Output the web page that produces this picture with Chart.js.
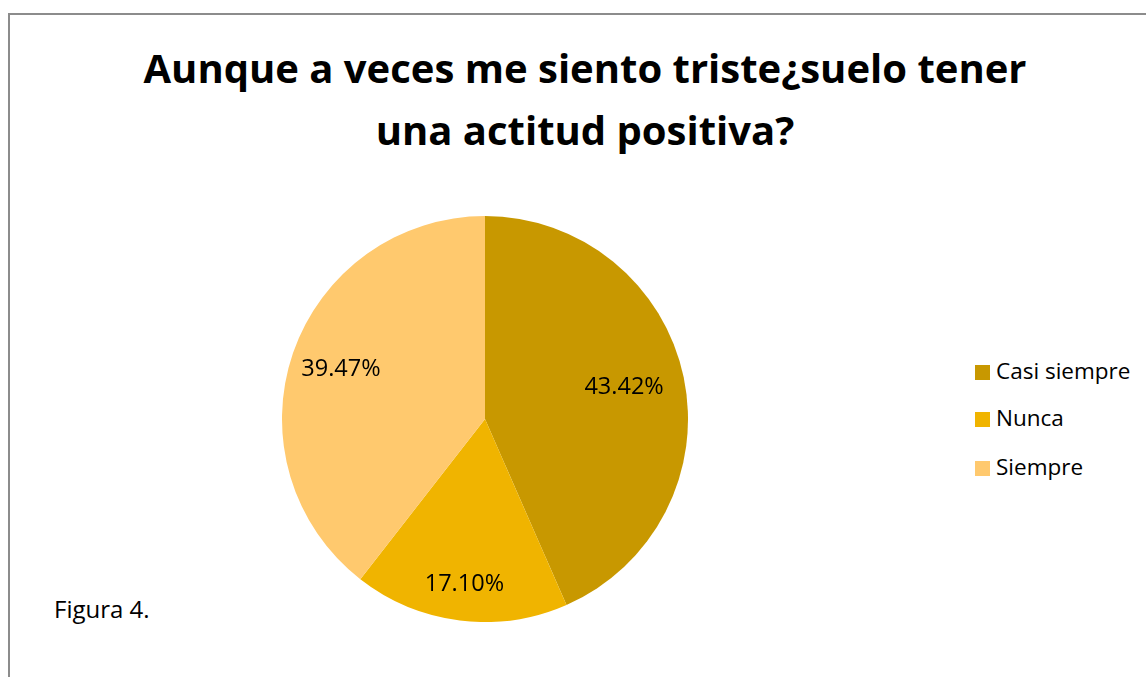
<!DOCTYPE html>
<html><head><meta charset="utf-8">
<script src="https://cdn.jsdelivr.net/npm/chart.js@4/dist/chart.umd.min.js"></script>
<style>
html,body{margin:0;padding:0;background:#fff;width:1146px;height:677px;overflow:hidden;font-family:"Open Sans",sans-serif;}
#frame{position:absolute;left:8px;top:13px;width:1200px;height:700px;border-left:2px solid #8c8c8c;border-top:2px solid #8c8c8c;}
.title{position:absolute;left:12px;width:1146px;text-align:center;font-weight:bold;font-size:40px;color:#000;white-space:nowrap;line-height:60px;}
#wrap{position:absolute;left:282px;top:216px;width:406px;height:406px;}
.leg{position:absolute;left:975px;font-size:22.5px;color:#000;line-height:28px;white-space:nowrap;}
.leg span{display:inline-block;width:15px;height:15px;margin-right:6px;vertical-align:-1px;}
#fig{position:absolute;left:54px;top:594px;font-size:24px;line-height:30px;}
</style></head>
<body>
<div id="frame"></div>
<div class="title" style="top:38px">Aunque a veces me siento triste¿suelo tener</div>
<div class="title" style="top:100px">una actitud positiva?</div>
<div id="wrap"><canvas id="c" width="406" height="406"></canvas></div>
<div id="legend"></div>
<div id="fig">Figura 4.</div>
<script>
const categories = ["Casi siempre", "Nunca", "Siempre"];
const values = [43.42, 17.10, 39.47];
const valueLabels = ["43.42%", "17.10%", "39.47%"];
const colors = ["#C89800", "#F0B400", "#FFC96E"];
const labelRadius = [0.70, 0.82, 0.75];

const legendTops = [357, 404, 453];
const legEl = document.getElementById('legend');
categories.forEach((c,i)=>{
  const d=document.createElement('div');d.className='leg';d.style.top=legendTops[i]+'px';
  d.innerHTML='<span style="background:'+colors[i]+'"></span>'+c;legEl.appendChild(d);
});

const labelPlugin = {
  id:'pieLabels',
  afterDatasetsDraw(chart){
    const ctx=chart.ctx;
    const meta=chart.getDatasetMeta(0);
    ctx.save();
    ctx.font='23.5px "Open Sans", sans-serif';
    ctx.fillStyle='#000';ctx.textAlign='center';ctx.textBaseline='middle';
    meta.data.forEach((arc,i)=>{
      const p=arc.getProps(['x','y','startAngle','endAngle','outerRadius'],true);
      const a=(p.startAngle+p.endAngle)/2;
      const r=p.outerRadius*labelRadius[i];
      let y=p.y+Math.sin(a)*r;
      if(i===0) y-=3;
      ctx.fillText(valueLabels[i],p.x+Math.cos(a)*r,y);
    });
    ctx.restore();
  }
};

new Chart(document.getElementById('c'),{
  type:'pie',
  data:{labels:categories,datasets:[{data:values,backgroundColor:colors,borderWidth:0}]},
  options:{responsive:false,animation:false,layout:{padding:0},
    plugins:{legend:{display:false},tooltip:{enabled:false}}},
  plugins:[labelPlugin]
});
</script>
</body></html>
